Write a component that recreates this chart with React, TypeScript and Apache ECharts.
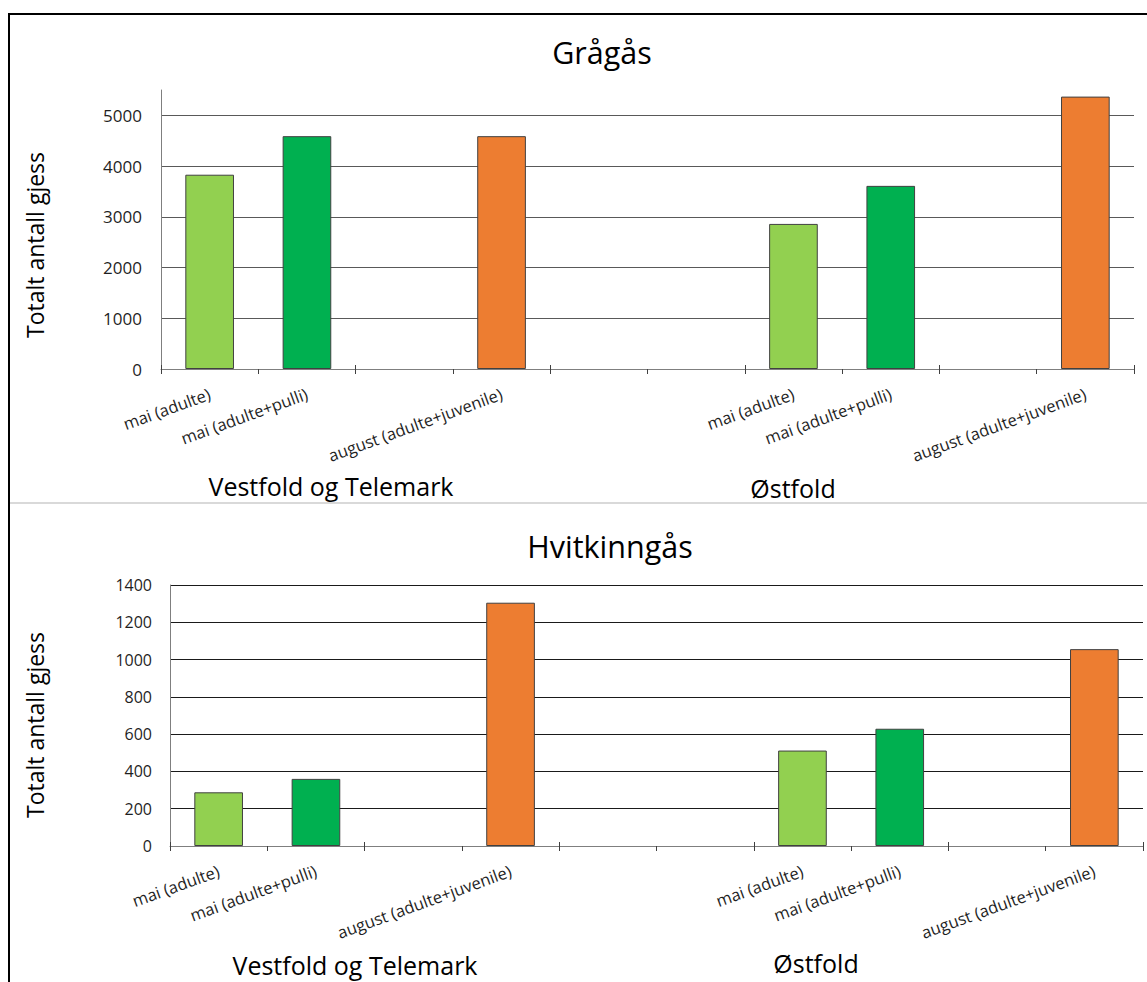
import React, { useEffect, useRef } from "react";
import * as echarts from "echarts";

// Ten category slots per chart; empty strings are spacer slots between groups.
const CATEGORIES = [
  "mai (adulte)",
  "mai (adulte+pulli)",
  "",
  "august (adulte+juvenile)",
  "",
  "",
  "mai (adulte)",
  "mai (adulte+pulli)",
  "",
  "august (adulte+juvenile)",
];
const REGIONS = ["Vestfold og Telemark", "Østfold"];

// Total counts per category slot (null = spacer)
const GRAGAS = [3830, 4590, null, 4590, null, null, 2860, 3610, null, 5370];
const HVITKINNGAS = [288, 360, null, 1305, null, null, 512, 629, null, 1056];

const GRAGAS_TICKS = [0, 1000, 2000, 3000, 4000, 5000];
const HVITKINNGAS_TICKS = [0, 200, 400, 600, 800, 1000, 1200, 1400];

const TITLES = ["Grågås", "Hvitkinngås"];
const Y_NAME = "Totalt antall gjess";

const FONT = '"Open Sans", "Noto Sans", sans-serif';

const COLOR_BY_LABEL: Record<string, string> = {
  "mai (adulte)": "#92D050",
  "mai (adulte+pulli)": "#00B050",
  "august (adulte+juvenile)": "#ED7D31",
};

function barData(values: (number | null)[]) {
  return values.map((v, i) =>
    v == null
      ? "-"
      : { value: v, itemStyle: { color: COLOR_BY_LABEL[CATEGORIES[i]] } }
  );
}

function xAxes(gridIndex: number) {
  return [
    {
      gridIndex,
      type: "category",
      data: CATEGORIES,
      position: "bottom",
      axisLine: { show: true, lineStyle: { color: "#7f7f7f", width: 1 } },
      axisTick: { show: true, length: 5, lineStyle: { color: "#404040" } },
      axisLabel: {
        interval: 0,
        rotate: 20,
        margin: 24,
        fontSize: 16.5,
        color: "#1f1f1f",
        fontFamily: FONT,
      },
      splitLine: { show: false },
    },
    {
      // inner half of the crossing tick marks
      gridIndex,
      type: "category",
      data: CATEGORIES,
      position: "bottom",
      axisLine: { show: false },
      axisTick: { show: true, inside: true, length: 4, lineStyle: { color: "#404040" } },
      axisLabel: { show: false },
      splitLine: { show: false },
    },
  ];
}

function yAxis(gridIndex: number, ticks: number[], max: number, fontSize: number, margin: number, gridColor: string) {
  const lastTick = ticks[ticks.length - 1];
  return {
    gridIndex,
    type: "value",
    min: ticks[0],
    max,
    interval: ticks[1] - ticks[0],
    axisLine: { show: true, lineStyle: { color: "#7f7f7f", width: 1 } },
    axisTick: { show: false },
    axisLabel: {
      showMaxLabel: max === lastTick,
      fontSize,
      margin,
      color: "#1f1f1f",
      fontFamily: FONT,
      formatter: (v: number) => String(v),
    },
    splitLine: {
      show: true,
      showMinLine: false,
      showMaxLine: max === lastTick,
      lineStyle: { color: gridColor, width: 1 },
    },
  };
}

export default function App() {
  const ref = useRef<HTMLDivElement>(null);

  useEffect(() => {
    if (!ref.current) return;
    const chart = echarts.init(ref.current, null, { renderer: "svg" });

    const titleStyle = { fontSize: 30.5, fontWeight: "normal", color: "#000", fontFamily: FONT };
    const bigText = `25px ${FONT}`;
    const yNameText = `23px ${FONT}`;

    const option = {
      animation: false,
      backgroundColor: "#ffffff",
      textStyle: { fontFamily: FONT },
      title: [
        { text: TITLES[0], left: 597, top: 31, textAlign: "center", textStyle: titleStyle },
        { text: TITLES[1], left: 605, top: 525, textAlign: "center", textStyle: titleStyle },
      ],
      grid: [
        { left: 161, top: 90, width: 973, height: 279, containLabel: false },
        { left: 170, top: 585, width: 973, height: 261, containLabel: false },
      ],
      xAxis: [...xAxes(0), ...xAxes(1)],
      yAxis: [
        yAxis(0, GRAGAS_TICKS, 5500, 17, 19, "#595959"),
        yAxis(1, HVITKINNGAS_TICKS, HVITKINNGAS_TICKS[HVITKINNGAS_TICKS.length - 1], 16, 18, "#1a1a1a"),
      ],
      series: [
        {
          name: TITLES[0],
          type: "bar",
          xAxisIndex: 0,
          yAxisIndex: 0,
          barWidth: "50%",
          itemStyle: { borderColor: "#404040", borderWidth: 1 },
          data: barData(GRAGAS),
        },
        {
          name: TITLES[1],
          type: "bar",
          xAxisIndex: 2,
          yAxisIndex: 1,
          barWidth: "50%",
          itemStyle: { borderColor: "#404040", borderWidth: 1 },
          data: barData(HVITKINNGAS),
        },
      ],
      graphic: [
        // outer frame (right and bottom edges fall outside the canvas)
        {
          type: "rect",
          shape: { x: 9, y: 14, width: 1300, height: 1100 },
          style: { fill: "none", stroke: "#000", lineWidth: 2 },
          silent: true,
        },
        // divider between the two charts
        {
          type: "line",
          shape: { x1: 10, y1: 503, x2: 1147, y2: 503 },
          style: { stroke: "#d9d9d9", lineWidth: 2 },
          silent: true,
        },
        {
          type: "text",
          x: 35,
          y: 245,
          rotation: Math.PI / 2,
          style: { text: Y_NAME, align: "center", verticalAlign: "middle", font: yNameText, fill: "#000" },
        },
        {
          type: "text",
          x: 35,
          y: 725,
          rotation: Math.PI / 2,
          style: { text: Y_NAME, align: "center", verticalAlign: "middle", font: yNameText, fill: "#000" },
        },
        {
          type: "text",
          x: 331,
          y: 486,
          style: { text: REGIONS[0], align: "center", verticalAlign: "middle", font: bigText, fill: "#000" },
        },
        {
          type: "text",
          x: 793,
          y: 488,
          style: { text: REGIONS[1], align: "center", verticalAlign: "middle", font: bigText, fill: "#000" },
        },
        {
          type: "text",
          x: 355,
          y: 965,
          style: { text: REGIONS[0], align: "center", verticalAlign: "middle", font: bigText, fill: "#000" },
        },
        {
          type: "text",
          x: 816,
          y: 963,
          style: { text: REGIONS[1], align: "center", verticalAlign: "middle", font: bigText, fill: "#000" },
        },
      ],
    };

    chart.setOption(option as any);
    return () => chart.dispose();
  }, []);

  return (
    <div
      ref={ref}
      style={{ position: "fixed", left: 0, top: 0, width: 1147, height: 982, background: "#fff" }}
    />
  );
}
